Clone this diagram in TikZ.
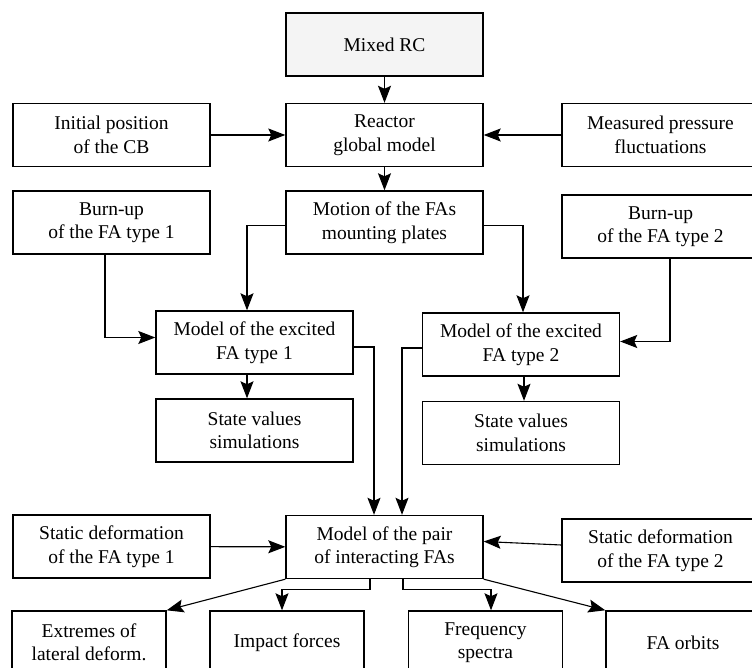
\documentclass[tikz,border=0pt]{standalone}
\usepackage{fontspec}
\setmainfont{Liberation Serif}
\newfontfamily\boxfont{Liberation Serif}
\usetikzlibrary{arrows.meta}
\definecolor{boxgray}{HTML}{F4F4F4}
\tikzset{
  block/.style={draw, line width=1.4pt, align=center, minimum width=197pt,
    minimum height=63pt, inner sep=0pt, font=\boxfont\fontsize{19.5}{23.5}\selectfont},
  smallblock/.style={block, minimum width=154pt},
  arr/.style={line width=1.1pt, -{Stealth[length=17pt,width=13pt,inset=3pt]}}
}

\begin{document}
\begin{tikzpicture}[x=1pt,y=-1pt]
    %frame
    \useasboundingbox (0,0) rectangle (752,668);
    \clip (0,0) rectangle (752,668);
    %boxes
    \node[block,fill=boxgray] (mixed) at (384.5,44.5) {Mixed RC};
    \node[block] (init) at (111.5,135) {Initial position\\of the CB};
    \node[block] (reactor) at (384.5,135) {Reactor\\global model};
    \node[block] (measured) at (660.5,135) {Measured pressure\\fluctuations};
    \node[block] (burn1) at (111.5,222.5) {Burn-up\\of the FA type 1};
    \node[block] (motion) at (384.5,222.5) {Motion of the FAs\\mounting plates};
    \node[block] (burn2) at (660.5,226.5) {Burn-up\\of the FA type 2};
    \node[block] (model1) at (254.5,342.5) {Model of the excited\\FA type 1};
    \node[block] (model2) at (521,344.5) {Model of the excited\\FA type 2};
    \node[block] (state1) at (254.5,430.5) {State values\\simulations};
    \node[block] (state2) at (521,433) {State values\\simulations};
    \node[block] (static1) at (111.5,546.5) {Static deformation\\of the FA type 1};
    \node[block] (pair) at (384.5,547) {Model of the pair\\of interacting FAs};
    \node[block] (static2) at (660.5,550.5) {Static deformation\\of the FA type 2};
    \node[smallblock] (extremes) at (89,642.5) {Extremes of\\lateral deform.};
    \node[smallblock] (impact) at (287,642.5) {Impact forces};
    \node[smallblock] (freq) at (485.5,642.5) {Frequency\\spectra};
    \node[smallblock] (orbits) at (683,642.5) {FA orbits};
    %links
    \draw[arr] (mixed) -- (reactor);
    \draw[arr] (init) -- (reactor);
    \draw[arr] (measured) -- (reactor);
    \draw[arr] (reactor) -- (motion);
    \draw[arr] ([yshift=-3pt]motion.west) -| ([xshift=-7.5pt]model1.north);
    \draw[arr] ([yshift=-3pt]motion.east) -| ([xshift=2pt]model2.north);
    \draw[arr] ([xshift=-6.5pt]burn1.south) |- ([yshift=5pt]model1.west);
    \draw[arr] ([xshift=9.5pt]burn2.south) |- ([yshift=3pt]model2.east);
    \draw[arr] ([xshift=-7.5pt]model1.south) -- ([xshift=-7.5pt]state1.north);
    \draw[arr] ([xshift=3pt]model2.south) -- ([xshift=3pt]state2.north);
    \draw[arr] ([yshift=-4.5pt]model1.east) -| ([xshift=-10.5pt]pair.north);
    \draw[arr] ([yshift=-3.5pt]model2.west) -| ([xshift=17.5pt]pair.north);
    \draw[arr] (static1) -- (pair);
    \draw[arr] ([yshift=5.5pt]static2.west) -- ([yshift=5.5pt]pair.east);
    \draw[arr] ([xshift=-14.5pt]pair.south) -- ++(0,10) -| ([xshift=-5pt]impact.north);
    \draw[arr] ([xshift=18.5pt]pair.south) -- ++(0,10) -| ([xshift=5.5pt]freq.north);
    \draw[arr] (pair.south west) -- (extremes.north east);
    \draw[arr] (pair.south east) -- (orbits.north west);
\end{tikzpicture}
\end{document}
